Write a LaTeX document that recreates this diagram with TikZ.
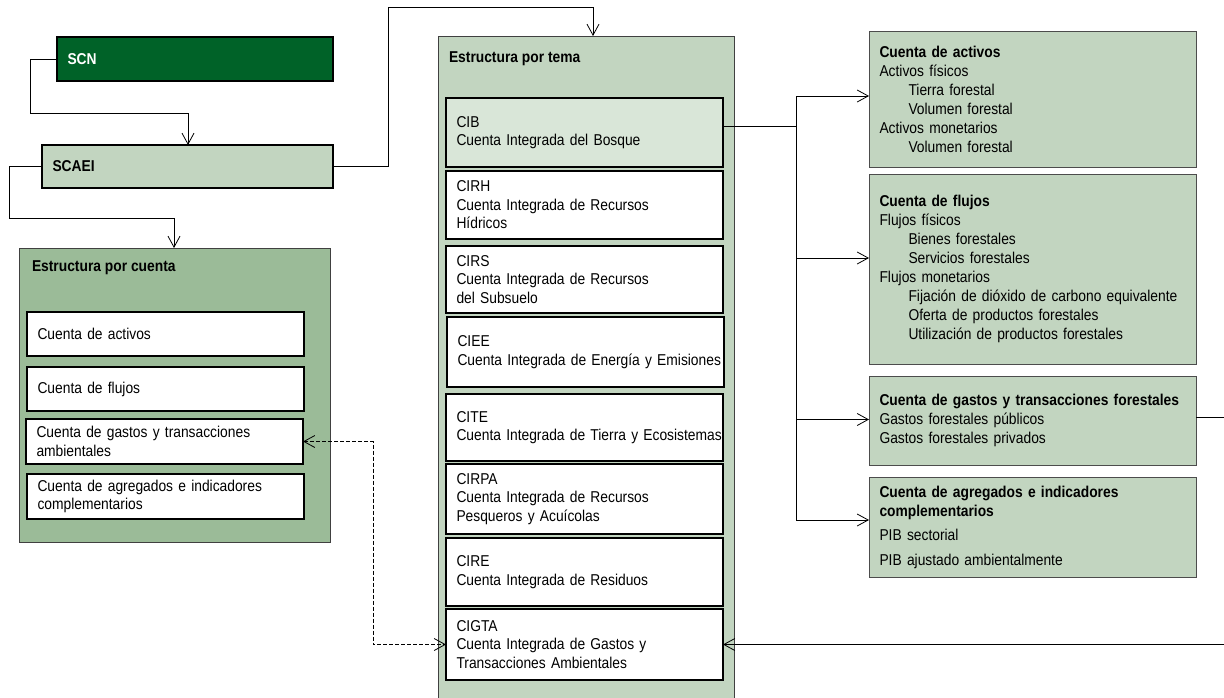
\documentclass[tikz,border=0pt]{standalone}
\usepackage{fontspec}
\setmainfont{Liberation Sans}[FakeStretch=0.88]
\usetikzlibrary{arrows.meta}
\definecolor{scngreen}{RGB}{0,98,40}
\definecolor{palegreen}{RGB}{194,213,192}
\definecolor{midgreen}{RGB}{155,187,152}
\definecolor{cibgreen}{RGB}{217,230,216}
\def\indentline{\hspace*{29pt}}
\tikzset{
	every node/.style={font=\fontsize{15.7}{18.5}\selectfont, outer sep=0pt, inner xsep=10.5pt, inner ysep=0pt, anchor=north west, align=left},
	headbox/.style={draw=black, line width=1.3pt},
	frame/.style={draw=black!75, line width=0.8pt, inner sep=0pt},
	boxtitle/.style={anchor=west, inner xsep=0pt, font=\fontsize{15.7}{18.5}\selectfont\bfseries},
	itembox/.style={draw=black, line width=1.7pt, fill=white, text width=256pt},
	sidebox/.style={draw=black!70, line width=0.9pt, fill=palegreen, text width=306pt, font=\fontsize{15.7}{19}\selectfont},
	link/.style={draw=black, line width=0.8pt},
	>={Straight Barb[length=11pt,width=12pt]},
}

\begin{document}
\begin{tikzpicture}[x=1pt,y=-1pt]
		%%%%% START %%%%%
		\useasboundingbox (0,0) rectangle (1224,698);
		\clip (0,0) rectangle (1224,698);
		
		\node[headbox, fill=scngreen, text=white, text width=255pt, minimum height=44pt] (scn) at (57,37) {\textbf{SCN}};
		\node[headbox, fill=palegreen, text width=270pt, minimum height=43pt] (scaei) at (42,145) {\textbf{SCAEI}};
		
		\node[frame, fill=midgreen, minimum width=311pt, minimum height=294pt] (cuenta) at (19,248) {};
		\node[boxtitle] (cuentatitle) at ([xshift=13pt,yshift=-20pt]cuenta.north west) {Estructura por cuenta};
		\node[itembox, minimum height=44pt] (cact) at (27,312) {Cuenta de activos};
		\node[itembox, minimum height=44pt] (cflu) at (27,367) {Cuenta de flujos};
		\node[itembox, minimum height=45pt] (cgas) at (26,419) {Cuenta de gastos y transacciones\\ambientales};
		\node[itembox, minimum height=45pt] (cagr) at (27,474) {Cuenta de agregados e indicadores\\complementarios};
		
		\node[frame, fill=palegreen, minimum width=296pt, minimum height=674pt] (tema) at (438,36) {};
		\node[boxtitle] (tematitle) at ([xshift=11pt,yshift=-23pt]tema.north west) {Estructura por tema};
		\node[itembox, fill=cibgreen, minimum height=69pt] (cib) at (446,98) {CIB\\Cuenta Integrada del Bosque};
		\node[itembox, minimum height=68pt] (cirh) at (446,171) {CIRH\\Cuenta Integrada de Recursos\\Hídricos};
		\node[itembox, minimum height=67pt] (cirs) at (446,246) {CIRS\\Cuenta Integrada de Recursos\\del Subsuelo};
		\node[itembox, minimum height=70pt] (ciee) at (447,317) {CIEE\\\mbox{Cuenta Integrada de Energía y Emisiones}};
		\node[itembox, minimum height=67pt] (cite) at (446,394) {CITE\\\mbox{Cuenta Integrada de Tierra y Ecosistemas}};
		\node[itembox, minimum height=70pt] (cirpa) at (446,464) {CIRPA\\Cuenta Integrada de Recursos\\Pesqueros y Acuícolas};
		\node[itembox, minimum height=68pt] (cire) at (446,538) {CIRE\\Cuenta Integrada de Residuos};
		\node[itembox, minimum height=71pt] (cigta) at (446,609) {CIGTA\\Cuenta Integrada de Gastos y\\Transacciones Ambientales};
		
		\node[sidebox, minimum height=136pt] (ract) at (869,31) {\textbf{Cuenta de activos}\\Activos físicos\\\indentline Tierra forestal\\\indentline Volumen forestal\\Activos monetarios\\\indentline Volumen forestal};
		\node[sidebox, minimum height=190pt] (rflu) at (869,174) {\textbf{Cuenta de flujos}\\Flujos físicos\\\indentline Bienes forestales\\\indentline Servicios forestales\\Flujos monetarios\\\indentline Fijación de dióxido de carbono equivalente\\\indentline Oferta de productos forestales\\\indentline Utilización de productos forestales};
		\node[sidebox, minimum height=89pt] (rgas) at (869,376) {\textbf{Cuenta de gastos y transacciones forestales}\\Gastos forestales públicos\\Gastos forestales privados};
		\node[sidebox, minimum height=100pt] (ragr) at (869,477) {\textbf{Cuenta de agregados e indicadores}\\\textbf{complementarios}\\[5pt]PIB sectorial\\[6pt]PIB ajustado ambientalmente};
		
		\draw[link,->] (scn.west) -- ++(-27,0) -- ++(0,54) -| ([xshift=146pt]scaei.north west);
		\draw[link,->] (scaei.west) -- ++(-33,0) -- ++(0,52) -| ([xshift=155pt]cuenta.north west);
		\draw[link,->] (scaei.east) -- ++(55,0) -- ++(0,-159.5) -| ([xshift=155pt]tema.north west);
		
		\coordinate (bus) at (796,126.5);
		\draw[link] ([yshift=6pt]cib.east) -- (bus);
		\draw[link,->] (bus) |- ([yshift=3pt]ract.west);
		\draw[link,->] (bus) |- ([yshift=11pt]rflu.west);
		\draw[link,->] (bus) |- ([yshift=1pt]rgas.west);
		\draw[link,->] (bus) |- ([yshift=7pt]ragr.west);
		
		\draw[link,dash pattern=on 4pt off 2pt,<->] (cgas.east) -- ++(70,0) |- (cigta.west);
		\draw[link,->] ([yshift=3pt]rgas.east) -- ++(40,0) |- (cigta.east);
		
		%%%%% END %%%%%
	\end{tikzpicture}
\end{document}
